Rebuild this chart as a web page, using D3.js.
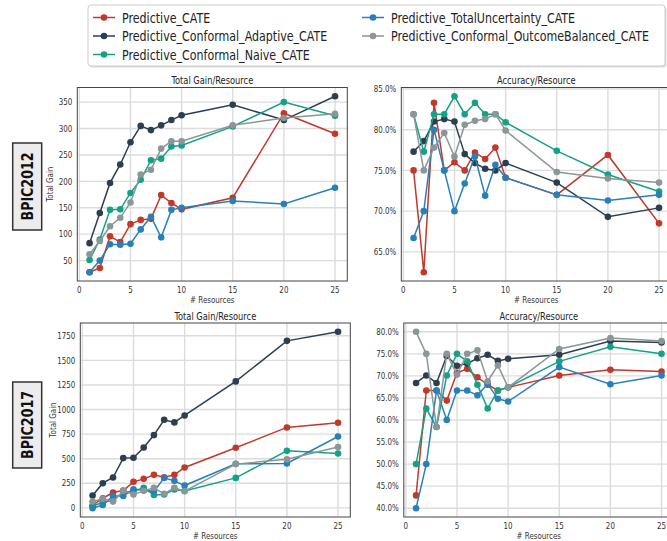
<!DOCTYPE html>
<html>
<head>
<meta charset="utf-8">
<script src="https://cdn.jsdelivr.net/npm/d3@7"></script>
<style>
  body { margin: 0; background: #fff; }
  svg { font-family: "DejaVu Sans", sans-serif; }
  .tick-label { font-size: 9px; fill: #333; }
  .title { font-size: 10.5px; fill: #222; }
  .axis-label { font-size: 9px; fill: #333; }
  .legend-text { font-size: 14px; fill: #222; }
  .dataset { font-size: 16px; font-weight: bold; fill: #111; }
</style>
</head>
<body>
<svg width="667" height="541"></svg>
<script>
// x positions shared by every panel
const resources = [1, 2, 3, 4, 5, 6, 7, 8, 9, 10, 15, 20, 25];

const methods = [
  'Predictive_CATE',
  'Predictive_Conformal_Adaptive_CATE',
  'Predictive_Conformal_Naive_CATE',
  'Predictive_TotalUncertainty_CATE',
  'Predictive_Conformal_OutcomeBalanced_CATE'
];
const colors = ['#c0392b', '#2c3e50', '#16a085', '#2980b9', '#8a9697'];

// one row per method, same order as `methods`
const gain2012 = [
  [28, 36, 96, 85, 119, 127, 129, 174, 159, 147, 169, 329, 290],
  [83, 140, 197, 232, 274, 305, 297, 306, 316, 325, 345, 316, 361],
  [51, 90, 146, 147, 178, 203, 240, 243, 266, 268, 304, 350, 324],
  [28, 50, 81, 80, 82, 109, 133, 94, 146, 150, 163, 157, 188],
  [62, 87, 115, 131, 160, 213, 222, 262, 276, 276, 306, 320, 328]
];
const acc2012 = [
  [75.0, 62.5, 83.3, 75.0, 76.0, 75.0, 77.2, 76.4, 77.8, 74.1, 72.0, 76.9, 68.5],
  [77.3, 78.6, 81.0, 81.3, 81.0, 77.0, 75.9, 75.2, 75.0, 75.9, 73.5, 69.3, 70.4],
  [81.9, 77.3, 81.9, 81.9, 84.1, 81.9, 83.3, 81.9, 81.9, 80.9, 77.4, 74.5, 72.4],
  [66.7, 70.0, 80.0, 75.0, 70.0, 73.4, 76.7, 71.9, 75.7, 74.1, 72.0, 71.3, 72.0],
  [81.9, 75.0, 77.8, 79.6, 76.7, 80.6, 81.1, 81.3, 81.9, 79.9, 74.8, 74.0, 73.5]
];
const gain2017 = [
  [25, 98, 156, 176, 265, 295, 336, 312, 336, 411, 611, 818, 865],
  [126, 251, 309, 506, 509, 614, 740, 896, 869, 940, 1286, 1698, 1790],
  [17, 58, 75, 160, 170, 204, 132, 136, 187, 173, 305, 580, 553],
  [-3, 30, 122, 122, 190, 183, 166, 305, 275, 227, 448, 451, 726],
  [64, 92, 64, 173, 136, 173, 204, 143, 204, 170, 445, 495, 618]
];
const acc2017 = [
  [42.9, 66.7, 66.7, 64.4, 70.7, 71.6, 69.7, 68.0, 66.7, 67.4, 70.1, 71.4, 71.0],
  [68.4, 70.1, 68.4, 74.5, 72.3, 72.8, 74.0, 74.8, 73.4, 73.9, 74.8, 77.9, 77.6],
  [50.0, 62.6, 58.4, 70.1, 75.0, 73.3, 68.0, 62.6, 66.7, 67.4, 73.3, 76.6, 75.0],
  [40.0, 50.0, 66.7, 60.0, 66.7, 66.7, 65.6, 68.2, 64.8, 64.2, 72.0, 68.1, 70.1],
  [80.0, 75.0, 58.4, 75.0, 70.3, 75.0, 75.8, 68.8, 72.4, 67.4, 76.1, 78.6, 77.9]
];

const xTicks = [0, 5, 10, 15, 20, 25];
const gain2012Ticks = [50, 100, 150, 200, 250, 300, 350];
const acc2012Ticks = [65, 70, 75, 80, 85];
const gain2017Ticks = [0, 250, 500, 750, 1000, 1250, 1500, 1750];
const acc2017Ticks = [40, 45, 50, 55, 60, 65, 70, 75, 80];
const datasets = ['BPIC2012', 'BPIC2017'];

const svg = d3.select('svg');
const squeezeFactor = 0.79;

// the source figure uses a narrow face, so every text is squashed along its length
function addText(parent, x, y, str, cls, anchor, rotate) {
  return parent.append('text')
    .attr('class', cls)
    .attr('transform', `translate(${x},${y}) rotate(${rotate || 0}) scale(${squeezeFactor},1)`)
    .attr('text-anchor', anchor || 'start')
    .text(str);
}

const panels = [
  { title: 'Total Gain/Resource', data: gain2012, ticks: gain2012Ticks, fmt: d => d, ylabel: 'Total Gain',
    left: 77.3, right: 347.3, top: 87.5, bottom: 281 },
  { title: 'Accuracy/Resource', data: acc2012, ticks: acc2012Ticks, fmt: d => d.toFixed(1) + '%', ylabel: null,
    left: 401.3, right: 671.3, top: 87.5, bottom: 281 },
  { title: 'Total Gain/Resource', data: gain2017, ticks: gain2017Ticks, fmt: d => d, ylabel: 'Total Gain',
    left: 80.3, right: 350.3, top: 323, bottom: 517 },
  { title: 'Accuracy/Resource', data: acc2017, ticks: acc2017Ticks, fmt: d => d.toFixed(1) + '%', ylabel: null,
    left: 403.8, right: 673.8, top: 323, bottom: 517 }
];

panels.forEach(p => {
  const xExt = d3.extent(resources);
  const xPad = (xExt[1] - xExt[0]) * 0.05;
  const x = d3.scaleLinear().domain([xExt[0] - xPad, xExt[1] + xPad]).range([p.left, p.right]);
  const yExt = d3.extent(p.data.flat());
  const yPad = (yExt[1] - yExt[0]) * 0.05;
  const y = d3.scaleLinear().domain([yExt[0] - yPad, yExt[1] + yPad]).range([p.bottom, p.top]);

  const g = svg.append('g');

  // grid
  g.selectAll('.gx').data(xTicks).enter().append('line')
    .attr('x1', d => x(d)).attr('x2', d => x(d))
    .attr('y1', p.top).attr('y2', p.bottom)
    .attr('stroke', '#dcdcdc').attr('stroke-width', 1.4);
  g.selectAll('.gy').data(p.ticks).enter().append('line')
    .attr('x1', p.left).attr('x2', p.right)
    .attr('y1', d => y(d)).attr('y2', d => y(d))
    .attr('stroke', '#dcdcdc').attr('stroke-width', 1.4);

  // frame
  g.append('rect')
    .attr('x', p.left).attr('y', p.top)
    .attr('width', p.right - p.left).attr('height', p.bottom - p.top)
    .attr('fill', 'none').attr('stroke', '#444').attr('stroke-width', 1);

  // tick labels
  xTicks.forEach(t => addText(g, x(t), p.bottom + 11.5, t, 'tick-label', 'middle'));
  p.ticks.forEach(t => addText(g, p.left - 5, y(t) + 3.2, p.fmt(t), 'tick-label', 'end'));

  addText(g, (p.left + p.right) / 2, p.top - 3.5, p.title, 'title', 'middle');
  addText(g, (p.left + p.right) / 2, p.bottom + 21.5, '# Resources', 'axis-label', 'middle');
  if (p.ylabel) {
    addText(g, p.left - 24.5, (p.top + p.bottom) / 2, p.ylabel, 'axis-label', 'middle', -90);
  }

  // series
  const line = d3.line().x((d, i) => x(resources[i])).y(d => y(d));
  p.data.forEach((vals, k) => {
    g.append('path').datum(vals)
      .attr('d', line)
      .attr('fill', 'none').attr('stroke', colors[k]).attr('stroke-width', 1.5);
    g.selectAll(null).data(vals).enter().append('circle')
      .attr('cx', (d, i) => x(resources[i])).attr('cy', d => y(d))
      .attr('r', 3.3).attr('fill', colors[k]);
  });
});

// dataset boxes on the left
const boxes = [{ top: 143, bottom: 230 }, { top: 382, bottom: 468 }];
boxes.forEach((b, i) => {
  svg.append('rect')
    .attr('x', 12.7).attr('y', b.top).attr('width', 29).attr('height', b.bottom - b.top)
    .attr('fill', '#ececec').attr('stroke', '#333').attr('stroke-width', 1.5);
  addText(svg, 33, (b.top + b.bottom) / 2, datasets[i], 'dataset', 'middle', -90);
});

// legend
const legend = svg.append('g');
legend.append('rect')
  .attr('x', 89.5).attr('y', 6.5).attr('width', 577).attr('height', 61)
  .attr('rx', 3).attr('fill', '#bbb').attr('opacity', 0.5);
legend.append('rect')
  .attr('x', 88).attr('y', 5).attr('width', 577).attr('height', 61)
  .attr('rx', 3).attr('fill', '#fff').attr('stroke', '#ccc');
const legendPos = [
  { x: 93, y: 17.5 }, { x: 93, y: 36 }, { x: 93, y: 54.5 },
  { x: 362, y: 17.5 }, { x: 362, y: 36 }
];
methods.forEach((m, k) => {
  const pos = legendPos[k];
  legend.append('line')
    .attr('x1', pos.x).attr('x2', pos.x + 22).attr('y1', pos.y).attr('y2', pos.y)
    .attr('stroke', colors[k]).attr('stroke-width', 1.5);
  legend.append('circle').attr('cx', pos.x + 11).attr('cy', pos.y).attr('r', 3.3).attr('fill', colors[k]);
  addText(legend, pos.x + 29, pos.y + 5, m, 'legend-text');
});
</script>
</body>
</html>
